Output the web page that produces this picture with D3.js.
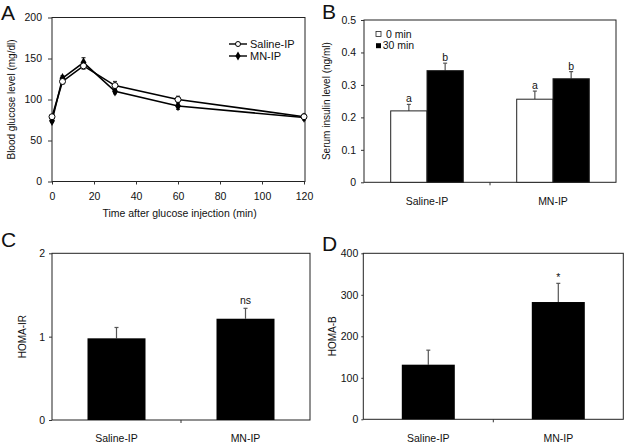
<!DOCTYPE html>
<html><head><meta charset="utf-8">
<script src="https://cdn.jsdelivr.net/npm/d3@7"></script>
<style>
body{margin:0;background:#fff;}
text{font-family:"Liberation Sans",Arial,sans-serif;fill:#111;}
</style></head>
<body><svg id="c" width="625" height="445"></svg>
<script>
// ---- Data ----
const glucoseTime = [0, 5, 15, 30, 60, 120];
const salineGlucose = [79, 122, 141, 117, 100, 79];
const salineGlucoseErr = [2, 3, 4, 5, 4, 3];
const mnGlucose = [74, 126, 145, 110, 92, 78];
const mnGlucoseErr = [2, 3, 6, 3, 4, 3];
const glucoseTicks = [0, 50, 100, 150, 200];
const timeTicks = [0, 20, 40, 60, 80, 100, 120];

const groups = ["Saline-IP", "MN-IP"];
const insulinSeries = ["0 min", "30 min"];
const insulin0 = [0.22, 0.256];
const insulin0Err = [0.02, 0.025];
const insulin30 = [0.344, 0.319];
const insulin30Err = [0.023, 0.022];
const insulin0Letters = ["a", "a"];
const insulin30Letters = ["b", "b"];
const insulinTicks = [0, 0.1, 0.2, 0.3, 0.4, 0.5];

const homaIR = [0.98, 1.215];
const homaIRErr = [0.13, 0.125];
const homaIRSig = ["", "ns"];
const homaIRTicks = [0, 1, 2];

const homaB = [131.6, 282.6];
const homaBErr = [35, 45];
const homaBSig = ["", "*"];
const homaBTicks = [0, 100, 200, 300, 400];

const svg = d3.select("#c");
const FS = 10;
const FL = 10.5;

function frame(g, x0, x1, y0, y1) {
  g.append("rect").attr("x", x0).attr("y", y0).attr("width", x1 - x0).attr("height", y1 - y0)
    .attr("fill", "none").attr("stroke", "#222").attr("stroke-width", 1);
}
function yAxis(g, y, x0, ticks, size, pad) {
  const ax = g.append("g").attr("transform", `translate(${x0},0)`)
    .call(d3.axisLeft(y).tickValues(ticks).tickSize(size).tickPadding(pad).tickFormat(d3.format("")));
  ax.select(".domain").remove();
  ax.selectAll("line").attr("stroke", "#333");
  ax.selectAll("text").attr("font-size", FL).attr("fill", "#111");
}
function letter(t, x, y) {
  svg.append("text").attr("x", x).attr("y", y).attr("font-size", 21).text(t);
}
function yTitle(t, x, y) {
  svg.append("text").attr("transform", `translate(${x},${y}) rotate(-90)`)
    .attr("text-anchor", "middle").attr("dy", "0.35em").attr("font-size", FS).text(t);
}
function errBar(g, cx, yTop, yBase, cap, color) {
  g.append("line").attr("x1", cx).attr("x2", cx).attr("y1", yBase).attr("y2", yTop).attr("stroke", color).attr("stroke-width", 1.2);
  g.append("line").attr("x1", cx - cap / 2).attr("x2", cx + cap / 2).attr("y1", yTop).attr("y2", yTop).attr("stroke", color).attr("stroke-width", 1.2);
}

// ---------- Panel A ----------
(function () {
  const g = svg.append("g");
  const L = 52, R = 305, T = 17.5, B = 181.5;
  const x = d3.scaleLinear().domain([0, 120]).range([L, 304]);
  const y = d3.scaleLinear().domain([0, 200]).range([B, T]);
  frame(g, L, R, T, B);
  yAxis(g, y, L, glucoseTicks, 4, 6);
  const xa = g.append("g").attr("transform", `translate(0,${B})`)
    .call(d3.axisBottom(x).tickValues(timeTicks).tickSize(3).tickPadding(8));
  xa.select(".domain").remove();
  xa.selectAll("line").attr("stroke", "#333");
  xa.selectAll("text").attr("font-size", FL).attr("fill", "#111");
  svg.append("text").attr("x", (L + R) / 2 + 1).attr("y", 217).attr("text-anchor", "middle").attr("font-size", FL)
    .text("Time after glucose injection (min)");
  yTitle("Blood glucose level (mg/dl)", 11, (T + B) / 2);
  letter("A", 1, 20);

  const line = d3.line().x((d, i) => x(glucoseTime[i])).y(d => y(d));
  [[mnGlucose, mnGlucoseErr], [salineGlucose, salineGlucoseErr]].forEach(([v, e]) => {
    v.forEach((d, i) => {
      errBar(g, x(glucoseTime[i]), y(d + e[i]), y(d - e[i]), 4, "#333");
      g.append("line").attr("x1", x(glucoseTime[i]) - 2).attr("x2", x(glucoseTime[i]) + 2)
        .attr("y1", y(d - e[i])).attr("y2", y(d - e[i])).attr("stroke", "#333").attr("stroke-width", 1.2);
    });
  });
  g.append("path").datum(mnGlucose).attr("d", line).attr("fill", "none").attr("stroke", "#000").attr("stroke-width", 1.6);
  g.append("path").datum(salineGlucose).attr("d", line).attr("fill", "none").attr("stroke", "#000").attr("stroke-width", 1.6);
  const diamond = d3.symbol().type(d3.symbolDiamond).size(30);
  mnGlucose.forEach((d, i) => {
    g.append("path").attr("d", diamond()).attr("transform", `translate(${x(glucoseTime[i])},${y(d)})`).attr("fill", "#000");
  });
  salineGlucose.forEach((d, i) => {
    g.append("circle").attr("cx", x(glucoseTime[i])).attr("cy", y(d)).attr("r", 3)
      .attr("fill", "#fff").attr("stroke", "#000").attr("stroke-width", 1);
  });
  // legend
  const ly = [44, 56];
  g.append("line").attr("x1", 229).attr("x2", 247).attr("y1", ly[0]).attr("y2", ly[0]).attr("stroke", "#000").attr("stroke-width", 1.4);
  g.append("circle").attr("cx", 238).attr("cy", ly[0]).attr("r", 2.5).attr("fill", "#fff").attr("stroke", "#000");
  g.append("line").attr("x1", 229).attr("x2", 247).attr("y1", ly[1]).attr("y2", ly[1]).attr("stroke", "#000").attr("stroke-width", 1.4);
  g.append("path").attr("d", d3.symbol().type(d3.symbolDiamond).size(24)()).attr("transform", `translate(238,${ly[1]})`).attr("fill", "#000");
  g.append("text").attr("x", 250).attr("y", ly[0]).attr("dy", "0.35em").attr("font-size", 11).text("Saline-IP");
  g.append("text").attr("x", 250).attr("y", ly[1]).attr("dy", "0.35em").attr("font-size", 11).text("MN-IP");
})();

// ---------- bar panel helper ----------
function barPanel(opts) {
  const g = svg.append("g");
  const { L, R, T, B } = opts;
  const x0 = d3.scaleBand().domain(groups).range([L, R]);
  const y = d3.scaleLinear().domain(opts.domain).range([B, T]);
  frame(g, L, R, T, B);
  yAxis(g, y, L, opts.ticks, opts.tickSize, opts.tickPad);
  g.append("line").attr("x1", x0(groups[1])).attr("x2", x0(groups[1])).attr("y1", B).attr("y2", B + 3).attr("stroke", "#333");
  groups.forEach(c => {
    svg.append("text").attr("x", x0(c) + x0.bandwidth() / 2).attr("y", opts.labelY).attr("dy", "0.35em")
      .attr("text-anchor", "middle").attr("font-size", FL).text(c);
  });
  return { g, x0, y };
}

// ---------- Panel B ----------
(function () {
  const L = 364, R = 616, T = 20, B = 182.3;
  const { g, x0, y } = barPanel({ L, R, T, B, domain: [0, 0.5], ticks: insulinTicks, tickSize: 3, tickPad: 5, labelY: 201.5 });
  const x1 = d3.scaleBand().domain(insulinSeries).range([-36.3, 36.3]);
  const sets = [
    { s: insulinSeries[0], v: insulin0, e: insulin0Err, l: insulin0Letters, fill: "#fff" },
    { s: insulinSeries[1], v: insulin30, e: insulin30Err, l: insulin30Letters, fill: "#000" }
  ];
  sets.forEach(st => {
    groups.forEach((c, i) => {
      const cx = x0(c) + x0.bandwidth() / 2;
      const bx = cx + x1(st.s);
      errBar(g, bx + x1.bandwidth() / 2, y(st.v[i] + st.e[i]), y(st.v[i]), 4, "#555");
      g.append("rect").attr("x", bx).attr("y", y(st.v[i])).attr("width", x1.bandwidth()).attr("height", B - y(st.v[i]))
        .attr("fill", st.fill).attr("stroke", "#222").attr("stroke-width", 1);
      g.append("text").attr("x", bx + x1.bandwidth() / 2).attr("y", y(st.v[i] + st.e[i]) - 2).attr("text-anchor", "middle")
        .attr("font-size", FL).text(st.l[i]);
    });
  });
  g.append("rect").attr("x", 376).attr("y", 31.5).attr("width", 5).attr("height", 5).attr("fill", "#fff").attr("stroke", "#222").attr("stroke-width", 0.8);
  g.append("rect").attr("x", 376).attr("y", 43.2).attr("width", 5).attr("height", 5).attr("fill", "#000");
  g.append("text").attr("x", 386).attr("y", 34).attr("dy", "0.35em").attr("font-size", FL).text(insulinSeries[0]);
  g.append("text").attr("x", 382.7).attr("y", 45.7).attr("dy", "0.35em").attr("font-size", FL).text(insulinSeries[1]);
  yTitle("Serum insulin level (ng/ml)", 326, (T + B) / 2);
  letter("B", 322, 19);
})();

// ---------- Panel C ----------
(function () {
  const L = 52, R = 310, T = 253.3, B = 420;
  const { g, x0, y } = barPanel({ L, R, T, B, domain: [0, 2], ticks: homaIRTicks, tickSize: 3, tickPad: 4, labelY: 438.5 });
  const bw = 58;
  groups.forEach((c, i) => {
    const cx = x0(c) + x0.bandwidth() / 2;
    errBar(g, cx, y(homaIR[i] + homaIRErr[i]), y(homaIR[i]), 4, "#555");
    g.append("rect").attr("x", cx - bw / 2).attr("y", y(homaIR[i])).attr("width", bw).attr("height", B - y(homaIR[i])).attr("fill", "#000");
    g.append("text").attr("x", cx).attr("y", y(homaIR[i] + homaIRErr[i]) - 4).attr("text-anchor", "middle").attr("font-size", FL).text(homaIRSig[i]);
  });
  yTitle("HOMA-IR", 22, (T + B) / 2);
  letter("C", 1, 247);
})();

// ---------- Panel D ----------
(function () {
  const L = 363.3, R = 623.3, T = 253.3, B = 419.3;
  const { g, x0, y } = barPanel({ L, R, T, B, domain: [0, 400], ticks: homaBTicks, tickSize: 2, tickPad: 3, labelY: 438.5 });
  const bw = 53;
  groups.forEach((c, i) => {
    const cx = x0(c) + x0.bandwidth() / 2;
    errBar(g, cx, y(homaB[i] + homaBErr[i]), y(homaB[i]), 4, "#555");
    g.append("rect").attr("x", cx - bw / 2).attr("y", y(homaB[i])).attr("width", bw).attr("height", B - y(homaB[i])).attr("fill", "#000");
    g.append("text").attr("x", cx).attr("y", y(homaB[i] + homaBErr[i]) - 2).attr("text-anchor", "middle").attr("font-size", FL).text(homaBSig[i]);
  });
  yTitle("HOMA-B", 332, (T + B) / 2);
  letter("D", 322, 251);
})();
</script></body></html>
